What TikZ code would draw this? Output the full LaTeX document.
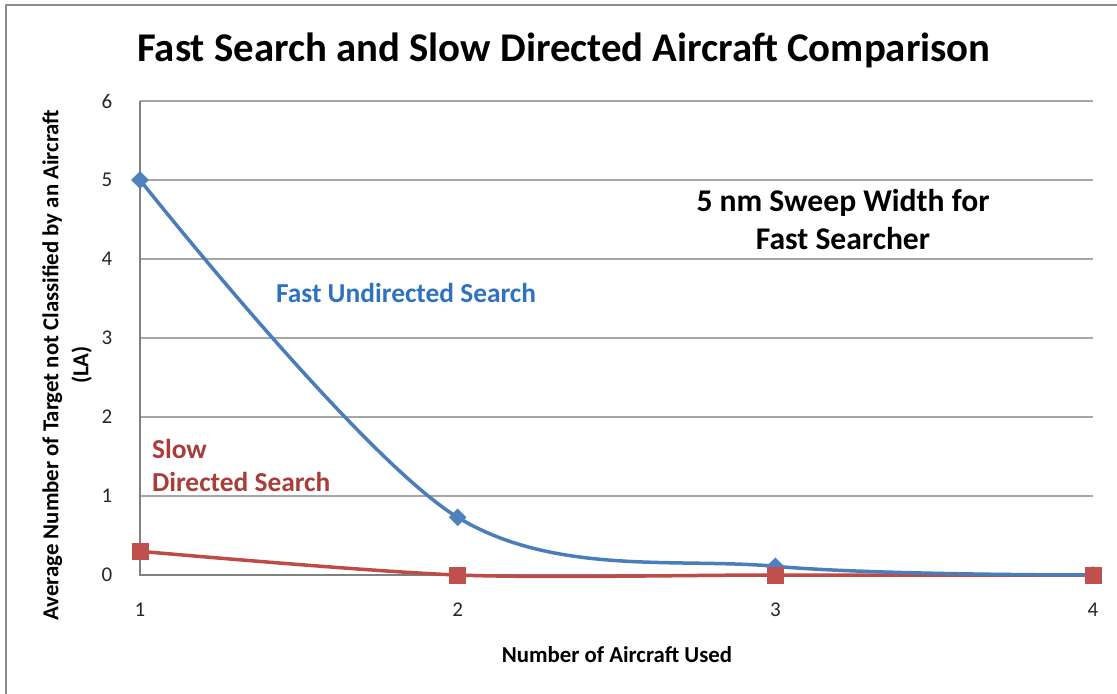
\documentclass[tikz,border=0pt]{standalone}
\usepackage{fontspec}
\setmainfont{Carlito}
\usepackage{tikz}
\usetikzlibrary{positioning, shapes.geometric, calc}
\definecolor{fastblue}{HTML}{4A7EBB}
\definecolor{fastmark}{HTML}{4F81BD}
\definecolor{fasttext}{HTML}{2F73BF}
\definecolor{slowred}{HTML}{BE4B48}
\definecolor{slowmark}{HTML}{C0504D}
\definecolor{slowtext}{HTML}{A83D3A}
\definecolor{gridgray}{HTML}{A6A6A6}
\definecolor{framegray}{HTML}{8C8C8C}

\begin{document}
\begin{tikzpicture}[
  x=0.5pt, y=-0.5pt,
  ttl/.style={font=\fontsize{20.4}{24}\selectfont\bfseries},
  axtitle/.style={font=\fontsize{11.4}{15}\selectfont\bfseries},
  tick/.style={font=\fontsize{10.5}{12}\selectfont, text=black!85},
  serieslab/.style={font=\fontsize{13.7}{16.5}\selectfont\bfseries},
  note/.style={font=\fontsize{15.8}{19}\selectfont\bfseries},
  grid/.style={gridgray, line width=0.6pt},
  fastline/.style={fastblue, line width=1.75pt, line join=round},
  slowline/.style={slowred, line width=1.75pt, line join=round},
  dmark/.style={diamond, fill=fastmark, inner sep=0pt, minimum size=9pt},
  smark/.style={rectangle, fill=slowmark, inner sep=0pt, minimum size=8.5pt}
]
\useasboundingbox (0,0) rectangle (1117,694);
\clip (0,0) rectangle (1117,694);

% Frame
\draw[framegray, line width=1pt] (6,5) rectangle (1140,720);

% Title
\node[ttl] (title) at (564,50) {Fast Search and Slow Directed Aircraft Comparison};

% Grid and axes
\foreach \v in {1,...,6}{
  \draw[grid] (140,{575-79*\v}) -- (1093,{575-79*\v});
}
\draw[gray, line width=0.7pt] (140,101) -- (140,575) -- (1093,575);

% Tick labels
\foreach \v in {0,...,6}{
  \node[tick] (y\v) at (107,{575-79*\v}) {\v};
}
\foreach \n in {1,...,4}{
  \node[tick] (x\n) at ({140+317.67*(\n-1)},610) {\n};
}

% Axis titles
\node[axtitle] (xtitle) at (617,655) {Number of Aircraft Used};
\node[axtitle, rotate=90, align=center] (ytitle) at (67,365)
  {Average Number of Target not Classified by an Aircraft\\(LA)};

% Series
\begin{scope}[shift={(-177.67,575)}, x=158.835pt, y=39.5pt]
  \draw[slowline] plot[smooth, tension=0.5] coordinates {(1,0.3) (2,0) (3,0) (4,0)};
  \draw[fastline] plot[smooth, tension=0.55] coordinates {(1,5) (2,0.73) (3,0.11) (4,0)};
  \foreach \n/\v in {1/5,2/0.73,3/0.11,4/0}{
    \node[dmark] (F\n) at (\n,\v) {};
  }
  \foreach \n/\v in {1/0.3,2/0,3/0,4/0}{
    \node[smark] (S\n) at (\n,\v) {};
  }
\end{scope}

% Series labels
\node[serieslab, text=fasttext, anchor=west] (fastlab) at (269,293) {Fast Undirected Search};
\node[serieslab, text=slowtext, anchor=west, align=left] (slowlab) at (145,465)
  {Slow\\Directed Search};

% Note
\node[note, align=center] (note) at (843,220) {5 nm Sweep Width for\\Fast Searcher};

\end{tikzpicture}
\end{document}
